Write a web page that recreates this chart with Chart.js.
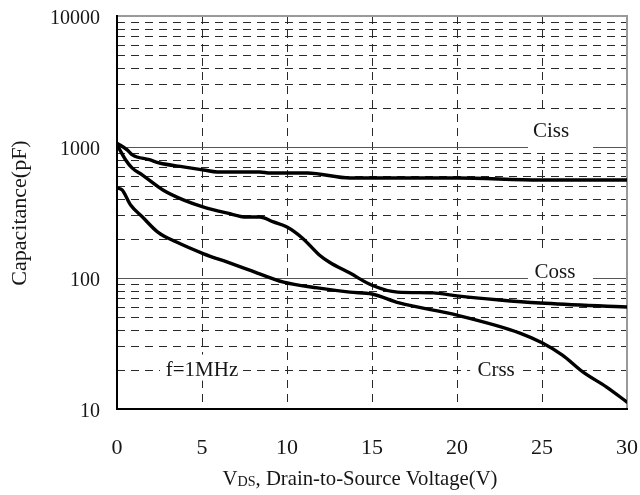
<!DOCTYPE html>
<html>
<head>
<meta charset="utf-8">
<script src="https://cdn.jsdelivr.net/npm/chart.js@4.4.1/dist/chart.umd.min.js"></script>
<style>
  html, body { margin: 0; padding: 0; background: #fff; }
  #wrap { width: 640px; height: 495px; }
</style>
</head>
<body>
<div id="wrap"><canvas id="c" width="640" height="495"></canvas></div>
<script>
// Capacitance vs drain-to-source voltage (f = 1 MHz)
const cissV = [0, 0.6, 0.9, 1.9, 2.5, 3.9, 5.1, 5.9, 8.4, 9.0, 11.2, 13.7, 20, 24.9, 30];
const cissC = [1070, 950, 870, 800, 755, 705, 668, 645, 645, 633, 633, 580, 580, 560, 560];

const cossV = [0, 0.5, 0.9, 1.5, 2.7, 3.9, 5.1, 6.5, 7.6, 8.4, 9.2, 10.0, 10.9, 11.9, 12.5, 13.7, 15.0, 16.5, 18.6, 20, 22.5, 24.9, 30];
const cossC = [1040, 800, 690, 610, 470, 395, 348, 313, 292, 292, 268, 245, 202, 150, 132, 109, 88, 78, 77, 73, 68, 64.5, 60];

const crssV = [0, 0.3, 0.8, 1.5, 2.4, 3.5, 5.1, 6.5, 7.8, 9.8, 11.8, 13.7, 15.0, 16.6, 20, 23.7, 25, 26.2, 27.4, 28.8, 30];
const crssC = [486, 470, 361, 292, 224, 188, 153, 132, 115, 93, 84, 78, 75.5, 64.5, 52, 38, 32, 25.8, 19.2, 14.7, 11.3];

const xTickValues = [0, 5, 10, 15, 20, 25, 30];
const yDecades = [10, 100, 1000, 10000];
const yMinorSteps = [2, 3, 4, 5, 6, 7, 8, 9];

// In-plot text labels: position in data units (baseline), white knock-out box in px around it
const notes = [
  { text: 'Ciss',   x: 25.53, y: 1190, box: [-23, -25, 42, 13] },
  { text: 'Coss',   x: 25.76, y: 100,  box: [-27, -27, 38, 4] },
  { text: 'f=1MHz', x: 5.0,   y: 18,   box: [-42, -21, 38, 5] },
  { text: 'Crss',   x: 22.3,  y: 18,   box: [-26, -21, 26, 5] }
];

const SERIF = '"Liberation Serif", "DejaVu Serif", serif';
const INK = '#161616';

const toPoints = (xs, ys) => xs.map((v, i) => ({ x: v, y: ys[i] }));

const curveStyle = {
  borderColor: '#000',
  borderWidth: 3.4,
  pointRadius: 0,
  fill: false,
  cubicInterpolationMode: 'monotone',
  borderCapStyle: 'round',
  borderJoinStyle: 'round'
};

// keep the plot area fixed: no extra room for overhanging tick labels
const noOverhang = s => { s.paddingLeft = 0; s.paddingRight = 0; s.paddingTop = 0; s.paddingBottom = 0; };

const framePlugin = {
  id: 'frame',
  beforeDatasetsDraw(chart) {
    const { ctx, chartArea: a, scales: { x: xs, y: ys } } = chart;
    ctx.save();

    // minor (dashed) horizontal grid
    ctx.lineWidth = 1;
    ctx.strokeStyle = '#2a2a2a';
    ctx.setLineDash([8, 6]);
    yDecades.slice(0, -1).forEach(d => {
      yMinorSteps.forEach(m => {
        const py = Math.round(ys.getPixelForValue(d * m)) + 0.5;
        ctx.beginPath(); ctx.moveTo(a.left, py); ctx.lineTo(a.right, py); ctx.stroke();
      });
    });
    // dashed vertical grid
    xTickValues.slice(1, -1).forEach(v => {
      const px = Math.round(xs.getPixelForValue(v)) + 0.5;
      ctx.beginPath(); ctx.moveTo(px, a.top); ctx.lineTo(px, a.bottom); ctx.stroke();
    });
    // solid decade lines
    ctx.setLineDash([]);
    ctx.strokeStyle = '#555';
    yDecades.slice(1, -1).forEach(d => {
      const py = Math.round(ys.getPixelForValue(d)) + 0.5;
      ctx.beginPath(); ctx.moveTo(a.left, py); ctx.lineTo(a.right, py); ctx.stroke();
    });

    // knock-out boxes and notes
    ctx.font = '21px ' + SERIF;
    ctx.textAlign = 'center';
    ctx.textBaseline = 'alphabetic';
    notes.forEach(n => {
      const cx = xs.getPixelForValue(n.x), cy = ys.getPixelForValue(n.y);
      ctx.fillStyle = '#fff';
      ctx.fillRect(cx + n.box[0], cy + n.box[1], n.box[2] - n.box[0], n.box[3] - n.box[1]);
      ctx.fillStyle = INK;
      ctx.fillText(n.text, cx, cy);
    });

    // plot frame: light top/right, dark axes left/bottom
    ctx.lineWidth = 2;
    ctx.strokeStyle = '#999';
    ctx.beginPath();
    ctx.moveTo(a.left, a.top); ctx.lineTo(a.right, a.top); ctx.lineTo(a.right, a.bottom);
    ctx.stroke();
    ctx.strokeStyle = '#000';
    ctx.beginPath();
    ctx.moveTo(a.left, a.top - 1); ctx.lineTo(a.left, a.bottom); ctx.lineTo(a.right + 1, a.bottom);
    ctx.stroke();
    ctx.restore();
  },
  afterDraw(chart) {
    const { ctx } = chart;
    ctx.save();
    ctx.fillStyle = INK;

    // y-axis title
    ctx.font = '22px ' + SERIF;
    ctx.translate(26, 213);
    ctx.rotate(-Math.PI / 2);
    ctx.textAlign = 'center';
    ctx.textBaseline = 'alphabetic';
    ctx.fillText('Capacitance(pF)', 0, 0);
    ctx.setTransform(1, 0, 0, 1, 0, 0);

    // x-axis title with subscript
    const big = '22px ' + SERIF, small = '15px ' + SERIF;
    const parts = [
      { t: 'V', f: big, dy: 0 },
      { t: 'DS', f: small, dy: 1 },
      { t: ', Drain-to-Source Voltage(V)', f: big, dy: 0 }
    ];
    let total = 0;
    parts.forEach(p => { ctx.font = p.f; p.w = ctx.measureText(p.t).width; total += p.w; });
    const sx = Math.min(1, 275 / total);
    ctx.translate(360 - total * sx / 2, 485);
    ctx.scale(sx, 1);
    ctx.textAlign = 'left';
    let xo = 0;
    parts.forEach(p => { ctx.font = p.f; ctx.fillText(p.t, xo, p.dy); xo += p.w; });
    ctx.restore();
  }
};

new Chart(document.getElementById('c'), {
  type: 'line',
  data: {
    datasets: [
      { label: 'Ciss', data: toPoints(cissV, cissC), ...curveStyle },
      { label: 'Coss', data: toPoints(cossV, cossC), ...curveStyle },
      { label: 'Crss', data: toPoints(crssV, crssC), ...curveStyle }
    ]
  },
  options: {
    responsive: false,
    devicePixelRatio: 1,
    animation: false,
    layout: { padding: { left: 0, top: 16, right: 13, bottom: 0 } },
    plugins: { legend: { display: false }, tooltip: { enabled: false } },
    scales: {
      x: {
        type: 'linear',
        min: 0, max: 30,
        afterBuildTicks: s => { s.ticks = xTickValues.map(v => ({ value: v })); },
        afterFit: s => { s.height = 86; noOverhang(s); },
        grid: { display: false, drawTicks: false },
        border: { display: false },
        ticks: { font: { family: SERIF, size: 22 }, color: INK, padding: 26, maxRotation: 0, autoSkip: false }
      },
      y: {
        type: 'logarithmic',
        min: 10, max: 10000,
        afterBuildTicks: s => { s.ticks = yDecades.map(v => ({ value: v })); },
        afterFit: s => { s.width = 117; noOverhang(s); },
        grid: { display: false, drawTicks: false },
        border: { display: false },
        ticks: {
          font: { family: SERIF, size: 20 }, color: INK, padding: 17, labelOffset: 3,
          callback: v => String(v)
        }
      }
    }
  },
  plugins: [framePlugin]
});
</script>
</body>
</html>
